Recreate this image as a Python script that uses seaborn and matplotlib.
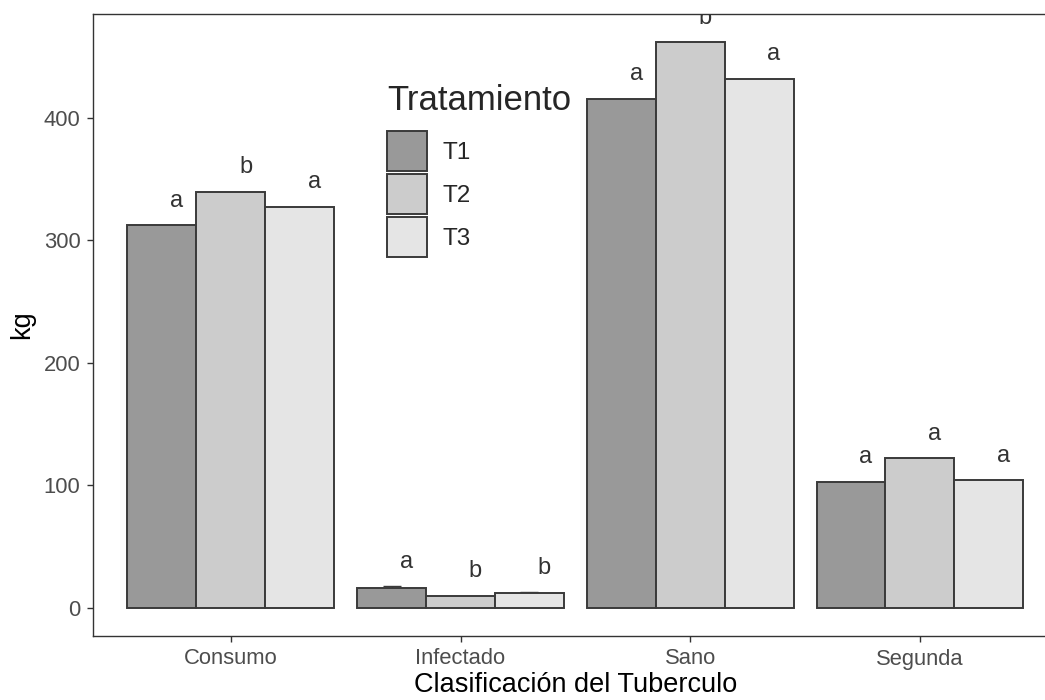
import numpy as np
import pandas as pd
import matplotlib
matplotlib.use("Agg")
import matplotlib.pyplot as plt
from matplotlib.patches import Patch
import seaborn as sns

# Tuber classification yields by treatment
categorias = ["Consumo", "Infectado", "Sano", "Segunda"]
tratamientos = ["T1", "T2", "T3"]
kg_t1 = [312.4, 16.3, 415.5, 103.0]
kg_t2 = [339.6, 9.8, 461.8, 122.0]
kg_t3 = [327.3, 12.2, 431.8, 104.0]
err_t1 = [0.0, 1.4, 0.0, 0.0]
err_t2 = [0.0, 0.0, 0.0, 0.0]
err_t3 = [0.0, 0.6, 0.0, 0.0]
letras_t1 = ["a", "a", "a", "a"]
letras_t2 = ["b", "b", "b", "a"]
letras_t3 = ["a", "b", "a", "a"]
colores = ["#999999", "#cccccc", "#e5e5e5"]

valores = [kg_t1, kg_t2, kg_t3]
errores = [err_t1, err_t2, err_t3]
letras = [letras_t1, letras_t2, letras_t3]

df = pd.DataFrame({
    "Clasificacion": np.tile(categorias, len(tratamientos)),
    "Tratamiento": np.repeat(tratamientos, len(categorias)),
    "kg": np.concatenate(valores),
})

sns.set_style("white")
plt.rcParams["font.family"] = ["Liberation Sans", "DejaVu Sans"]

fig = plt.figure(figsize=(10.45, 7.0), dpi=100)
ax = fig.add_axes([93 / 1045, 1 - 636 / 700, 964.7 / 1045, (636 - 13.7) / 700])

sns.barplot(data=df, x="Clasificacion", y="kg", hue="Tratamiento",
            order=categorias, hue_order=tratamientos, palette=colores,
            width=0.9, gap=0, edgecolor="#3a3a3a", linewidth=1.4,
            errorbar=None, legend=False, ax=ax, zorder=2)

# error bars (behind the bars) and significance letters on each bar
bar_groups = list(ax.containers)
for i, cont in enumerate(bar_groups):
    for j, bar in enumerate(cont):
        cx = bar.get_x() + bar.get_width() / 2
        h = bar.get_height()
        e = errores[i][j]
        if e > 0:
            ax.errorbar(cx, h, yerr=e, color="#3a3a3a", capsize=6.5,
                        elinewidth=1.0, capthick=1.0, zorder=1)
        ax.text(cx + 0.065, h + e + 20, letras[i][j], ha="center",
                va="center", fontsize=17, color="#333333", zorder=4,
                clip_on=True)

ax.set_xlim(-0.6, 3.6)
ax.set_ylim(-23, 485)
ax.set_yticks([0, 100, 200, 300, 400])

for s in ax.spines.values():
    s.set_visible(True)
    s.set_color("#333333")
    s.set_linewidth(1.0)

ax.tick_params(axis="both", which="both", length=4.5, width=1.0,
               color="#333333", labelcolor="#4d4d4d", labelsize=15.8,
               left=True, bottom=True)
ax.tick_params(axis="x", pad=4.5)
ax.tick_params(axis="y", pad=4.5)

ax.set_xlabel("Clasificación del Tuberculo", fontsize=19.5, color="black",
              labelpad=1.5)
ax.set_ylabel("kg", fontsize=19.5, color="black", labelpad=6)

handles = [Patch(facecolor=c, edgecolor="#3a3a3a", linewidth=1.4)
           for c in colores]
leg = ax.legend(handles, tratamientos, title="Tratamiento",
                loc="upper left",
                bbox_to_anchor=(387 / 1045, 1 - 84 / 700),
                bbox_transform=fig.transFigure, frameon=False,
                fontsize=17.5, title_fontsize=25,
                handlelength=1.65, handleheight=2.16, labelspacing=0.12,
                handletextpad=0.64, borderpad=0, borderaxespad=0)
leg._legend_box.align = "left"
leg._legend_box.sep = 10

fig.savefig("out.png", dpi=100)
